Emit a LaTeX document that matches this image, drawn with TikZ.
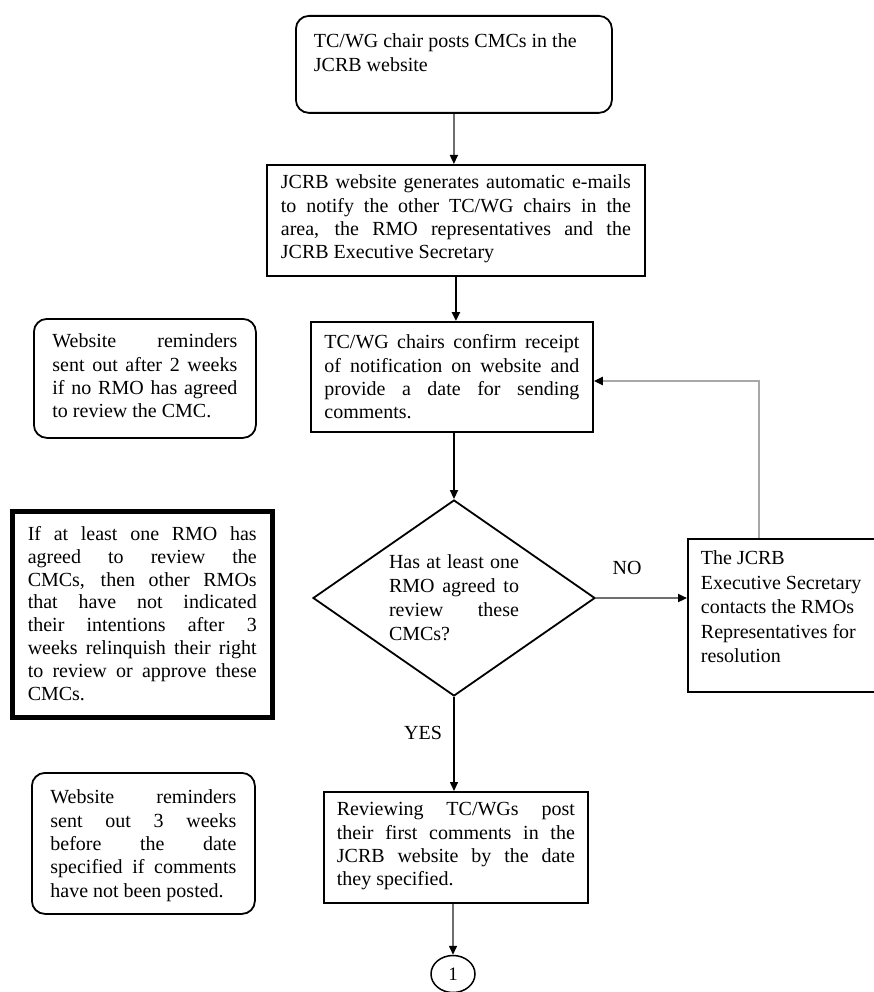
\documentclass[tikz,border=0pt]{standalone}
\usepackage{fontspec}
\setmainfont{Liberation Serif}
\usetikzlibrary{shapes.geometric,arrows.meta,calc}
\newcommand\firststrut[1]{\rule{0pt}{#1}}
\newcommand\boxtext[5][23.3]{\parbox[c][#2][t]{#3}{\fontsize{20}{#1}\selectfont\hyphenpenalty=10000\exhyphenpenalty=10000\firststrut{#4}#5}}
\definecolor{linegray}{HTML}{6E6E6E}
\definecolor{lightline}{HTML}{A8A8A8}
\tikzset{
  plainbox/.style={draw=black, line width=1.8pt, inner ysep=0pt, anchor=north west},
  roundbox/.style={plainbox, rounded corners=13pt},
  thickbox/.style={plainbox, line width=4.5pt},
  arr/.style={-{Triangle[length=9pt,width=8pt,color=black]}, line width=1.5pt},
  lbl/.style={inner sep=0pt, font=\fontsize{20}{23}\selectfont}
}
\begin{document}
\begin{tikzpicture}[x=1pt,y=-1pt]
\clip (0,0) rectangle (874,992);
\fill[white] (0,0) rectangle (874,992);

\node[roundbox, inner xsep=18pt] (top) at (295,15)
  {\boxtext{97pt}{280pt}{32pt}{\raggedright TC/WG chair posts CMCs in the\\ JCRB website}};

\node[plainbox, inner xsep=14pt] (b2) at (266,164)
  {\boxtext{111pt}{350pt}{24pt}{JCRB website generates automatic e-mails\linebreak to notify the other TC/WG chairs in the\linebreak area, the RMO representatives and the\linebreak JCRB Executive Secretary}};

\node[plainbox, inner xsep=13.5pt] (b3) at (310,321)
  {\boxtext{110pt}{255pt}{27pt}{TC/WG chairs confirm receipt\linebreak of notification on website and\linebreak provide a date for sending\linebreak comments.}};

\node[roundbox, inner xsep=18.5pt] (l1) at (33,318)
  {\boxtext{119pt}{185pt}{29pt}{Website reminders\linebreak sent out after 2 weeks\linebreak if no RMO has agreed\linebreak to review the CMC.}};

\node[thickbox, inner xsep=15.5pt] (l2) at (10,509)
  {\boxtext[22.9]{206pt}{229pt}{29pt}{If at least one RMO has\linebreak agreed to review the\linebreak CMCs, then other RMOs\linebreak that have not indicated\linebreak their intentions after 3\linebreak weeks relinquish their right\linebreak to review or approve these\linebreak CMCs.}};

\node[diamond, draw=black, line width=1.8pt, minimum width=282pt, minimum height=196pt, aspect=1.44, inner sep=0pt] (dia) at (454,598)
  {\raisebox{-3pt}{\parbox{130pt}{\fontsize{20}{24}\selectfont\hyphenpenalty=10000 Has at least one\linebreak RMO agreed to\linebreak review these\linebreak CMCs?}}};

\node[plainbox, inner xsep=13pt] (rb) at (687,538)
  {\boxtext[24.4]{153pt}{174pt}{26pt}{\raggedright The JCRB\\ Executive Secretary\\ contacts the RMOs\\ Representatives for\\ resolution}};

\node[plainbox, inner xsep=13pt] (b4) at (323,791)
  {\boxtext{111pt}{238pt}{24pt}{Reviewing TC/WGs post\linebreak their first comments in the\linebreak JCRB website by the date\linebreak they specified.}};

\node[roundbox, inner xsep=18.5pt] (l3) at (31,772)
  {\boxtext{141pt}{186pt}{31pt}{Website reminders\linebreak sent out 3 weeks\linebreak before the date\linebreak specified if comments\linebreak have not been posted.}};

\node[ellipse, draw=black, line width=1.5pt, minimum width=44pt, minimum height=37pt, inner sep=0pt] (c1) at (453,974)
  {\fontsize{19}{20}\selectfont 1};

\node[lbl] (no) at (627,568) {NO};
\node[lbl] (yes) at (423,733) {YES};

\draw[arr, draw=linegray] (top.south) -- (top.south |- b2.north);
\draw[arr, line width=2.2pt] (b2.south) -- (b2.south |- b3.north);
\draw[arr] (dia.north |- b3.south) -- (dia.north);
\draw[arr, draw=linegray, line width=2.2pt] (dia.east) -- (dia.east -| rb.west);
\coordinate (fb) at ($(rb.north west)+(72,0)$);
\coordinate (fbend) at ($(b3.north east)+(0,60)$);
\draw[arr, draw=lightline, line width=2.8pt] (fb) |- (fbend);
\draw[arr] (dia.south) -- (dia.south |- b4.north);
\draw[arr, draw=linegray] (c1.north |- b4.south) -- (c1.north);
\end{tikzpicture}
\end{document}
